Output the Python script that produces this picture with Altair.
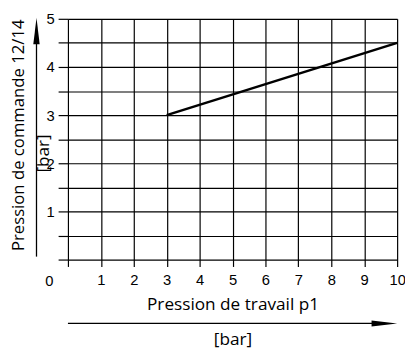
import altair as alt
import pandas as pd

# data
x_ticks = [0, 1, 2, 3, 4, 5, 6, 7, 8, 9, 10]
y_ticks = [0, 0.5, 1, 1.5, 2, 2.5, 3, 3.5, 4, 4.5, 5]
line_x = [3, 10]
line_y = [3, 4.5]
x_title = "Pression de travail p1"
y_title = "Pression de commande 12/14"
unit_label = "[bar]"
origin_label = "0"

df_line = pd.DataFrame({"x": line_x, "y": line_y})
one = alt.Data(values=[{"v": 0}])

TITLE_FONT = "Open Sans"
TICK_FONT = "Liberation Sans"
TITLE_SIZE = 17.5
TICK_SIZE = 15

x_axis = alt.Axis(
    values=x_ticks, grid=True, gridColor="black", gridWidth=1.2,
    domain=False, tickSize=7, tickColor="black", tickWidth=1.2,
    format=".0f",
    labelExpr="datum.value == 0 ? '' : datum.label",
    labelFont=TICK_FONT, labelFontSize=TICK_SIZE, labelColor="black", labelPadding=6,
    labelFlush=False, labelOverlap=False,
    title=x_title, titleFont=TITLE_FONT, titleFontSize=TITLE_SIZE, titleFontWeight="normal",
    titleColor="black", titleBaseline="middle", titleY=46,
)
y_axis = alt.Axis(
    values=y_ticks, grid=True, gridColor="black", gridWidth=1.2,
    domain=False, tickSize=10, tickColor="black", tickWidth=1.2,
    format=".0f",
    labelExpr="datum.value > 0 && datum.value % 1 == 0 ? datum.label : ''",
    labelFont=TICK_FONT, labelFontSize=TICK_SIZE, labelColor="black", labelPadding=4,
    labelOverlap=False,
    title=y_title, titleFont=TITLE_FONT, titleFontSize=17, titleFontWeight="normal",
    titleColor="black", titleAngle=-90, titleBaseline="middle", titleX=-50, titleY=118,
)

xs = alt.Scale(domain=[0, 10], nice=False, zero=False)
ys = alt.Scale(domain=[0, 5], nice=False, zero=False)

line = alt.Chart(df_line).mark_line(color="black", strokeWidth=2.6).encode(
    x=alt.X("x:Q", scale=xs, axis=x_axis),
    y=alt.Y("y:Q", scale=ys, axis=y_axis),
)

origin = alt.Chart(pd.DataFrame({"x": [0], "y": [0], "t": [origin_label]})).mark_text(
    font=TICK_FONT, fontSize=TICK_SIZE, color="black", dx=-19, dy=22
).encode(x=alt.X("x:Q", scale=xs, axis=x_axis), y=alt.Y("y:Q", scale=ys, axis=y_axis), text="t:N")

y_arrow = alt.Chart(one).mark_rule(color="black", strokeWidth=1.3).encode(
    x=alt.value(-32), y=alt.value(242), y2=alt.value(14)
)
y_head = alt.Chart(one).mark_point(
    shape="M0,-1L0.24,1L-0.24,1Z", filled=True, color="black", opacity=1, size=729
).encode(x=alt.value(-32), y=alt.value(12.5))

x_arrow = alt.Chart(one).mark_rule(color="black", strokeWidth=1.3).encode(
    x=alt.value(0), x2=alt.value(320), y=alt.value(310)
)
x_head = alt.Chart(one).mark_point(
    shape="M1,0L-1,0.24L-1,-0.24Z", filled=True, color="black", opacity=1, size=676
).encode(x=alt.value(322), y=alt.value(310))

y_unit = alt.Chart(one).mark_text(
    font=TITLE_FONT, fontSize=TITLE_SIZE, color="black", angle=270, baseline="middle"
).encode(x=alt.value(-24), y=alt.value(137), text=alt.value(unit_label))

x_unit = alt.Chart(one).mark_text(
    font=TITLE_FONT, fontSize=TITLE_SIZE, color="black", baseline="middle"
).encode(x=alt.value(168), y=alt.value(327), text=alt.value(unit_label))

chart = alt.layer(line, origin, y_arrow, y_head, x_arrow, x_head, y_unit, x_unit).properties(
    width=335, height=245,
    autosize=alt.AutoSizeParams(type="none"),
    padding={"left": 61, "top": 8, "right": 8, "bottom": 88},
).configure(background="white").configure_view(strokeWidth=0)

chart.save("out.html", embed_options={"renderer": "svg", "actions": False})
